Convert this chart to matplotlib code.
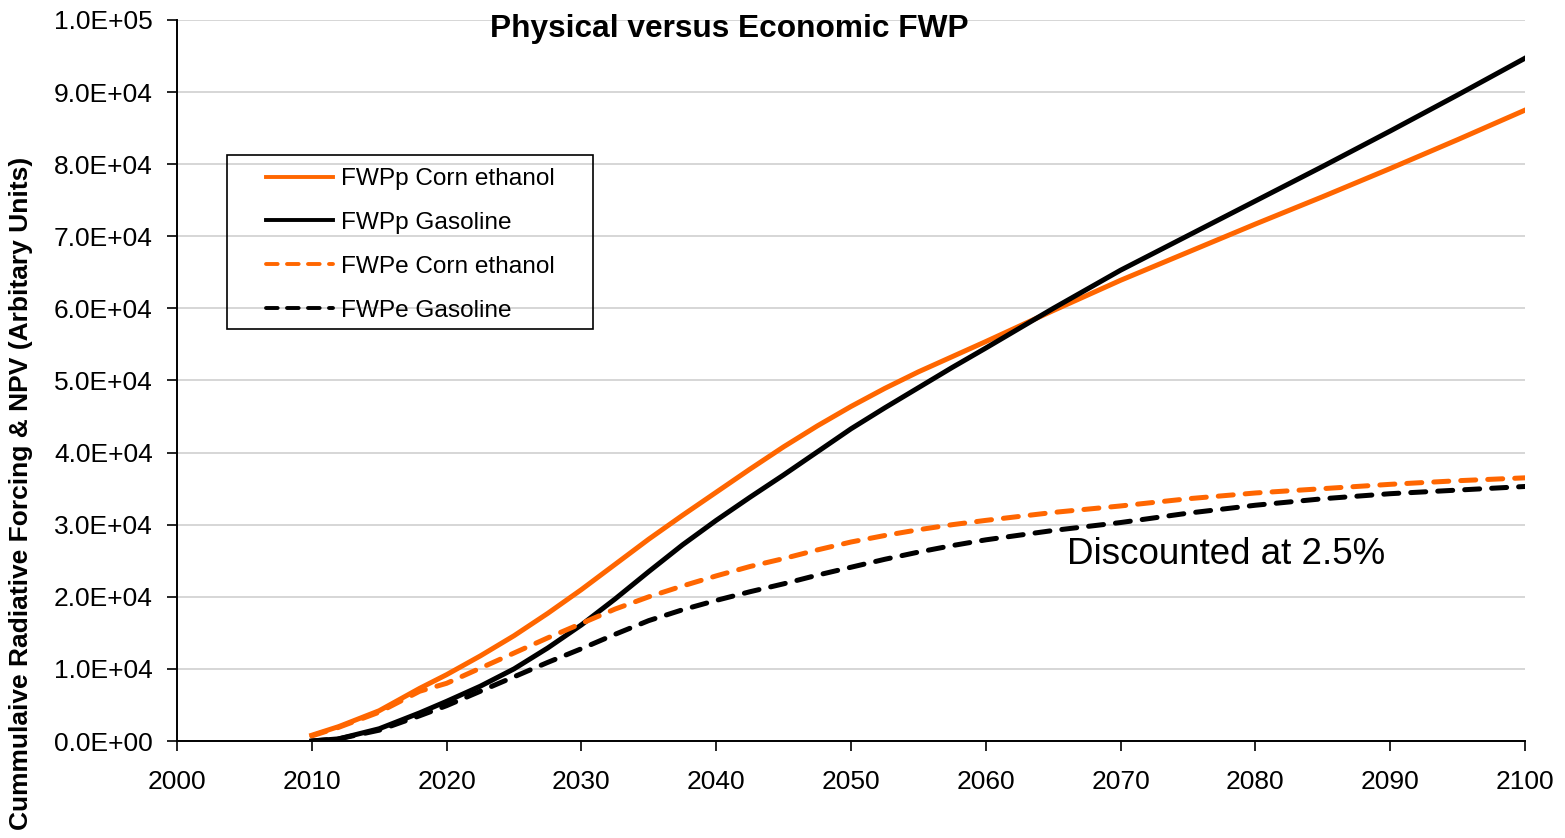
import matplotlib
matplotlib.use("Agg")
import matplotlib.pyplot as plt
from matplotlib.patches import Rectangle
from matplotlib.ticker import FuncFormatter, MultipleLocator

plt.rcParams["font.family"] = ["Liberation Sans", "DejaVu Sans"]

# values
years = [2010, 2012, 2015, 2018, 2020, 2022.5, 2025, 2027.5, 2030, 2032.5, 2035,
         2037.5, 2040, 2042.5, 2045, 2047.5, 2050, 2052.5, 2055, 2057.5, 2060,
         2065, 2070, 2075, 2080, 2085, 2090, 2095, 2100]

fwpp_corn = [800, 2000, 4200, 7300, 9200, 11800, 14600, 17700, 21000, 24500, 28000,
             31300, 34500, 37700, 40800, 43700, 46400, 48900, 51200, 53300, 55400,
             59700, 63900, 67800, 71700, 75500, 79400, 83400, 87500]
fwpp_gas = [0, 300, 1700, 3900, 5500, 7600, 10000, 12900, 16100, 19700, 23500,
            27200, 30600, 33800, 36900, 40100, 43300, 46200, 49000, 51800, 54500,
            60000, 65300, 70100, 74900, 79700, 84600, 89600, 94700]
fwpe_corn = [700, 1900, 4000, 6900, 8000, 10100, 12200, 14300, 16300, 18300, 20000,
             21500, 22900, 24200, 25300, 26500, 27600, 28500, 29300, 30000, 30600,
             31700, 32600, 33600, 34400, 35000, 35600, 36100, 36500]
fwpe_gas = [0, 300, 1500, 3500, 4900, 6900, 8900, 10900, 12800, 14800, 16700,
            18200, 19500, 20700, 21800, 23000, 24100, 25200, 26200, 27100, 27900,
            29200, 30300, 31600, 32700, 33600, 34300, 34800, 35300]

labels = ["FWPp Corn ethanol", "FWPp Gasoline", "FWPe Corn ethanol", "FWPe Gasoline"]
orange = "#FF6600"

W, H = 1565, 838
fig = plt.figure(figsize=(W / 100, H / 100), dpi=100)
ax = fig.add_axes([177 / W, 1 - 741 / H, (1525 - 177) / W, (741 - 20) / H])

ax.plot(years, fwpp_corn, color=orange, lw=3.6, label=labels[0])
ax.plot(years, fwpp_gas, color="black", lw=3.6, label=labels[1])
ax.plot(years, fwpe_corn, color=orange, lw=3.6, ls=(0, (3.0, 2.4)),
        dash_capstyle="round", label=labels[2])
ax.plot(years, fwpe_gas, color="black", lw=3.6, ls=(0, (3.0, 2.4)),
        dash_capstyle="round", label=labels[3])

ax.set_xlim(2000, 2100)
ax.set_ylim(0, 100000)
ax.xaxis.set_major_locator(MultipleLocator(10))
ax.yaxis.set_major_locator(MultipleLocator(10000))
ax.yaxis.set_major_formatter(FuncFormatter(lambda v, p: f"{v:.1E}"))
ax.tick_params(axis="both", labelsize=19, length=7, width=1.2, direction="out")
ax.tick_params(axis="x", pad=14)
ax.tick_params(axis="y", pad=10.5)

ax.grid(axis="y", color="#d0d0d0", lw=1.2)
ax.set_axisbelow(True)
for side in ["top", "right"]:
    ax.spines[side].set_visible(False)
for side in ["left", "bottom"]:
    ax.spines[side].set_linewidth(1.4)

fig.text(21 / W, 1 - 493 / H, "Cummulaive Radiative Forcing & NPV (Arbitary Units)",
         fontsize=19, fontweight="bold", rotation=90, ha="center", va="center")

ax.text(2041, 98800, "Physical versus Economic FWP",
        fontsize=22.8, fontweight="bold", ha="center", va="center")
ax.text(2066, 25800, "Discounted at 2.5%", fontsize=26.5, ha="left", va="center")

# legend box drawn separately so the side padding can be wider than the top
fig.patches.append(Rectangle((227 / W, 1 - 329 / H), (593 - 227) / W, (329 - 155) / H,
                             transform=fig.transFigure, fill=False,
                             edgecolor="black", lw=1.2))
leg = ax.legend(loc="upper left", bbox_to_anchor=(266 / W, 1 - 168 / H),
                bbox_transform=fig.transFigure, borderaxespad=0, borderpad=0,
                fontsize=17.6, frameon=False, handlelength=2.75, handletextpad=0.33,
                labelspacing=0.89)
for line in leg.get_lines():
    line.set_linewidth(2.8)

fig.savefig("out.png", dpi=100)
